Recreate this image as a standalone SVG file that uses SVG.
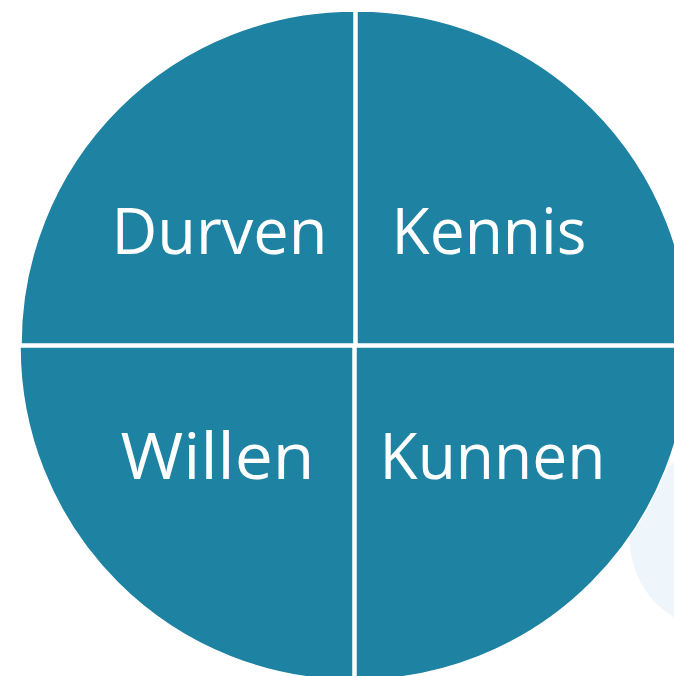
<svg xmlns="http://www.w3.org/2000/svg" width="674" height="676" viewBox="0 0 674 676">
<style>
.q{fill:#1e82a3;stroke:#ffffff;stroke-width:1.5}
.t{fill:#ffffff;font-family:"Open Sans","Liberation Sans",sans-serif;font-size:64px;text-anchor:middle}
</style>
<rect width="674" height="676" fill="#ffffff"/>
<circle id="bg-circle" cx="720" cy="540" r="90" fill="#eef5fb"/>
<g id="durven">
<path class="q" d="M354,344 L21,344 A333,333 0 0 1 354,11 Z"/>
<text class="t" x="219.5" y="254" textLength="216" lengthAdjust="spacingAndGlyphs">Durven</text>
</g>
<g id="kennis">
<path class="q" d="M357,344 L357,11 A333,333 0 0 1 690,344 Z"/>
<text class="t" x="489" y="254" textLength="195" lengthAdjust="spacingAndGlyphs">Kennis</text>
</g>
<g id="willen">
<path class="q" d="M353,347 L20,347 A333,333 0 0 0 353,680 Z"/>
<text class="t" x="217.5" y="479" textLength="194" lengthAdjust="spacingAndGlyphs">Willen</text>
</g>
<g id="kunnen">
<path class="q" d="M356,347 L689,347 A333,333 0 0 1 356,680 Z"/>
<text class="t" x="492.5" y="479" textLength="226" lengthAdjust="spacingAndGlyphs">Kunnen</text>
</g>
<g id="connectors"></g>
</svg>
